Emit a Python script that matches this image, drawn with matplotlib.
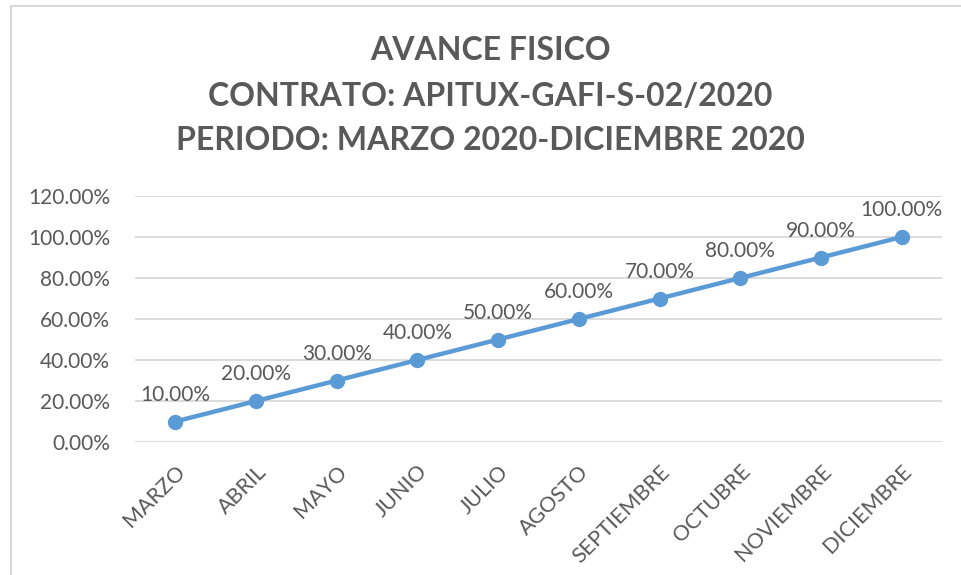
import matplotlib
matplotlib.use("Agg")
import matplotlib.pyplot as plt
from matplotlib.patches import Rectangle

months = ["MARZO", "ABRIL", "MAYO", "JUNIO", "JULIO", "AGOSTO",
          "SEPTIEMBRE", "OCTUBRE", "NOVIEMBRE", "DICIEMBRE"]
avance = [10, 20, 30, 40, 50, 60, 70, 80, 90, 100]
yticks = [0, 20, 40, 60, 80, 100, 120]
title_lines = ["AVANCE FISICO", "CONTRATO: APITUX-GAFI-S-02/2020",
               "PERIODO: MARZO 2020-DICIEMBRE 2020"]

W, H = 961, 575
fig = plt.figure(figsize=(W / 100, H / 100), dpi=100)
plt.rcParams['font.family'] = ['Lato', 'DejaVu Sans']
txt = '#595959'

# border
fig.patches.append(Rectangle((11 / W, -0.1), 1.2, (H - 6) / H + 0.1, transform=fig.transFigure,
                             fill=False, edgecolor='#D9D9D9', linewidth=1.5))

ax_l, ax_r = 135, 942
ax_t, ax_b = 196, 442
ax = fig.add_axes([ax_l / W, 1 - ax_b / H, (ax_r - ax_l) / W, (ax_b - ax_t) / H])

x = list(range(len(months)))
ax.plot(x, avance, color='#5B9BD5', linewidth=3.2, marker='o', markersize=10,
        solid_capstyle='round', zorder=3, clip_on=False)
for xi, v in zip(x, avance):
    ax.annotate(f"{v:.2f}%", (xi, v), xytext=(0, 12), textcoords='offset points',
                ha='center', va='bottom', fontsize=15, color=txt)

ax.set_xlim(-0.5, len(months) - 0.5)
ax.set_ylim(0, 120)
ax.set_yticks(yticks)
ax.set_yticklabels([f"{v:.2f}%" for v in yticks], fontsize=15, color=txt)
ax.set_xticks(x)
ax.set_xticklabels(months, fontsize=15.5, color=txt, rotation=45, ha='right',
                   rotation_mode='anchor')
ax.tick_params(axis='both', length=0)
ax.tick_params(axis='y', pad=18)
ax.tick_params(axis='x', pad=14)
ax.grid(axis='y', color='#D9D9D9', linewidth=1.3)
ax.set_axisbelow(True)
for s in ax.spines.values():
    s.set_visible(False)

for i, (line, yy) in enumerate(zip(title_lines, [50, 97, 141])):
    fig.text(490 / W, 1 - yy / H, line, ha='center', va='center',
             fontsize=23, fontweight='bold', color=txt)

fig.savefig("out.png", dpi=100)
